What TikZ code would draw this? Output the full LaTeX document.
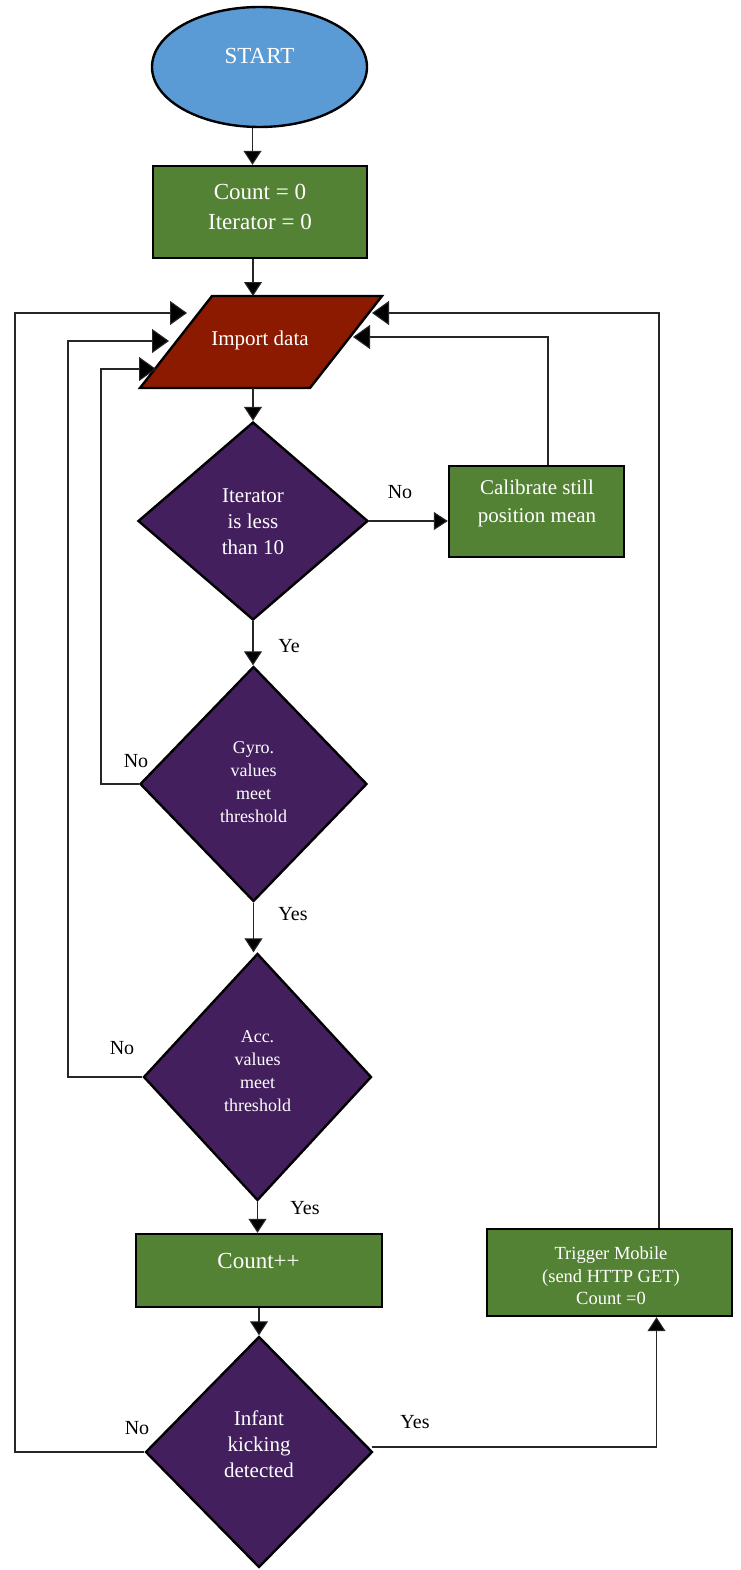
\documentclass[tikz,border=0pt]{standalone}
\usepackage{fontspec}
\setmainfont{Liberation Serif}
\usetikzlibrary{shapes.geometric,arrows.meta}
\definecolor{cblue}{HTML}{5B9BD5}
\definecolor{cgreen}{HTML}{548235}
\definecolor{cred}{HTML}{8B1A00}
\definecolor{cpurple}{HTML}{441F5E}
\begin{document}
\begin{tikzpicture}[x=1pt,y=-1pt,
  shp/.style={draw=black,line width=2.4pt,inner sep=0pt},
  boxn/.style={shp,rectangle,fill=cgreen},
  dia/.style={shp,diamond,fill=cpurple},
  txt/.style={text=white,align=center,inner sep=0pt},
  arr/.style={draw=black!85,line width=1.1pt,-{Triangle[length=14pt,width=18pt,fill=black]}},
  bigtip/.style={-{Triangle[length=17pt,width=24pt,fill=black]}},
  lbl/.style={font=\fontsize{20}{24}\selectfont,inner sep=0pt}]
\useasboundingbox (0,0) rectangle (740,1570);

% START
\node[shp,ellipse,fill=cblue,minimum width=215pt,minimum height=120pt] (start) at (259.5,67) {};
\node[txt,font=\fontsize{23}{28}\selectfont] (startT) at (259.5,56) {START};

% Count = 0
\node[boxn,minimum width=214pt,minimum height=92pt] (cnt) at (260,212) {};
\node[txt,font=\fontsize{23}{30}\selectfont] (cntT) at (260,207) {Count = 0\\Iterator = 0};

% Import data parallelogram
\coordinate (pTL) at (212,296);
\coordinate (pTR) at (382,296);
\coordinate (pBR) at (310,388);
\coordinate (pBL) at (140,388);
\filldraw[fill=cred,draw=black,line width=2.4pt] (pTL) -- (pTR) -- (pBR) -- (pBL) -- cycle;
\node[txt,font=\fontsize{21}{25}\selectfont] (imp) at (260,340) {Import data};
\coordinate (pTop) at (253,296);
\coordinate (pBot) at (253,388);
\coordinate (pL1) at (187,313);
\coordinate (pL2) at (169,341);
\coordinate (pL3) at (156,369);
\coordinate (pR1) at (372,313);
\coordinate (pR2) at (353,337);

% Iterator diamond
\node[dia,minimum width=230pt,minimum height=198pt] (iter) at (253,521) {};
\node[txt,font=\fontsize{21}{26}\selectfont] (iterT) at (253,522) {Iterator\\is less\\than 10};

% Calibrate box
\node[boxn,minimum width=175pt,minimum height=91pt] (cal) at (536.5,511.5) {};
\node[txt,font=\fontsize{21}{28}\selectfont] (calT) at (537,503) {Calibrate still\\position mean};

% Gyro diamond
\node[dia,minimum width=227pt,minimum height=235pt] (gyro) at (253.5,784) {};
\node[txt,font=\fontsize{18}{23}\selectfont] (gyroT) at (253.5,782) {Gyro.\\values\\meet\\threshold};

% Acc diamond
\node[dia,minimum width=228pt,minimum height=247pt] (acc) at (257.5,1077) {};
\node[txt,font=\fontsize{18}{23}\selectfont] (accT) at (257.5,1071.5) {Acc.\\values\\meet\\threshold};

% Count++
\node[boxn,minimum width=246pt,minimum height=73pt] (cpp) at (259,1270.5) {};
\node[txt,font=\fontsize{23}{28}\selectfont] (cppT) at (258.5,1261) {Count++};

% Infant diamond
\node[dia,minimum width=227pt,minimum height=231pt] (inf) at (259,1452) {};
\node[txt,font=\fontsize{21}{26}\selectfont] (infT) at (259,1444) {Infant\\kicking\\detected};

% Trigger box
\node[boxn,minimum width=245pt,minimum height=87pt] (trig) at (609.5,1272.5) {};
\node[txt,font=\fontsize{18.5}{22.5}\selectfont] (trigT) at (611,1276) {Trigger Mobile\\(send HTTP GET)\\Count =0};

% loop corners
\coordinate (g1) at (101,369);
\coordinate (a1) at (68,341);
\coordinate (i1) at (15,313);

% connectors
\draw[arr] ([xshift=-7pt]start.south) -- ([xshift=-7pt]start.south |- cnt.north);
\draw[arr] ([xshift=-7pt]cnt.south) -- (pTop);
\draw[arr] (pBot) -- (pBot |- iter.north);
\draw[arr] (iter.east) -- (iter.east -| cal.west);
\draw[arr,bigtip] ([xshift=11.5pt]cal.north) |- (pR2);
\draw[arr] (iter.south) -- (iter.south |- gyro.north);
\draw[arr,bigtip] (gyro.west) -| (g1) -- (pL3);
\draw[arr] (gyro.south) -- (gyro.south |- acc.north);
\draw[arr,bigtip] (acc.west) -| (a1) -- (pL2);
\draw[arr] (acc.south) -- (acc.south |- cpp.north);
\draw[arr] (cpp.south) -- (cpp.south |- inf.north);
\draw[arr,bigtip] (inf.west) -| (i1) -- (pL1);
\draw[arr] ([yshift=5pt,xshift=-2pt]inf.east) -| ([xshift=47pt]trig.south);
\draw[arr,bigtip] ([xshift=49.5pt]trig.north) |- (pR1);

% labels
\node[lbl] (lNo1) at (400,492) {No};
\node[lbl] (lYe) at (289,646) {Ye};
\node[lbl] (lNo2) at (136,761) {No};
\node[lbl] (lYes1) at (293,914) {Yes};
\node[lbl] (lNo3) at (122,1048) {No};
\node[lbl] (lYes2) at (305,1208) {Yes};
\node[lbl] (lNo4) at (137,1428) {No};
\node[lbl] (lYes3) at (415,1422) {Yes};
\end{tikzpicture}
\end{document}
